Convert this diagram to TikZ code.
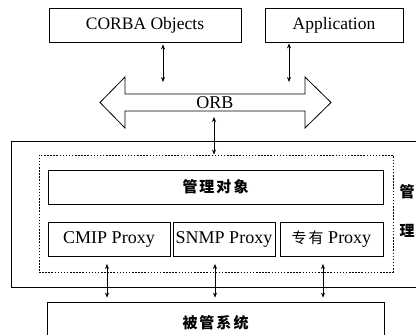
\documentclass[tikz,border=0pt]{standalone}
\usepackage{fontspec}
\setmainfont{Liberation Serif}
\newfontfamily\cjk{Noto Sans CJK SC}
\usetikzlibrary{arrows.meta,calc}
\tikzset{
  box/.style={draw, line width=0.8pt, inner sep=0pt, anchor=center},
  lat/.style={font=\fontsize{17.5}{20}\selectfont},
  dbl/.style={{Stealth[length=5pt,width=4pt]}-{Stealth[length=5pt,width=4pt]}, line width=0.7pt},
  dotbox/.style={draw, line width=0.9pt, dash pattern=on 1.5pt off 1.6pt, inner sep=0pt, anchor=center}
}
\begin{document}
\begin{tikzpicture}[x=1pt,y=-1pt]
\useasboundingbox (0,0) rectangle (416,335);
\clip (0,0) rectangle (416,335);
% top boxes
\node[box, lat, minimum width=192pt, minimum height=34pt] (corba) at (145,25) {CORBA Objects};
\node[box, lat, minimum width=138pt, minimum height=34pt] (app) at (334,25) {Application};
% ORB fat double arrow
\draw[line width=0.8pt] (100,102.5) -- (125,77) -- (125,94) -- (305,94) -- (305,77) -- (331,102.5)
  -- (305,128) -- (305,111) -- (125,111) -- (125,128) -- cycle;
\node[inner sep=0pt, font=\fontsize{18}{20}\selectfont] (orb) at (215,103) {ORB};
\coordinate (orbt1) at (163,82);
\coordinate (orbt2) at (289,82);
\coordinate (orbb) at (214,117);
% outer box (right side off the page)
\draw[line width=0.9pt] (420,141) -- (11,141) -- (11,287) -- (420,287);
% dotted box
\node[dotbox, minimum width=354pt, minimum height=117pt] (mgr) at (216,213.5) {};
% inner boxes
\node[box, minimum width=335pt, minimum height=34pt, font=\cjk\bfseries\fontsize{15}{18}\selectfont] (mo) at (215.5,187) {管\kern2pt 理\kern2pt 对\kern2pt 象};
\node[box, lat, font=\fontsize{18}{20}\selectfont, minimum width=122pt, minimum height=34pt] (cmip) at (109,239) {CMIP Proxy};
\node[box, lat, font=\fontsize{18}{20}\selectfont, minimum width=102pt, minimum height=34pt] (snmp) at (224,239) {SNMP Proxy};
\node[box, minimum width=103pt, minimum height=34pt] (prop) at (331.5,239) {{\cjk\fontsize{15}{18}\selectfont 专\kern2pt 有}\fontsize{18}{20}\selectfont\ Proxy};
% side labels
\node[font=\cjk\bfseries\fontsize{15}{18}\selectfont, inner sep=0pt] (lg) at (407,192) {管};
\node[font=\cjk\bfseries\fontsize{15}{18}\selectfont, inner sep=0pt] (ll) at (407,231) {理};
% managed system
\node[box, minimum width=337pt, minimum height=50pt] (sys) at (215.5,327) {};
\node[font=\cjk\bfseries\fontsize{15}{18}\selectfont, inner sep=0pt] (syst) at (215.5,323) {被\kern2pt 管\kern2pt 系\kern2pt 统};
% connectors
\draw[dbl] ($(corba.south)+(18,2)$) -- (orbt1);
\draw[dbl] ($(app.south)+(-45,1)$) -- (orbt2);
\draw[dbl] (orbb) -- (orbb |- mgr.north);
\coordinate (b1) at (107,264);
\coordinate (b2) at (215,264);
\coordinate (b3) at (323,264);
\draw[dbl] (b1) -- ($(b1 |- sys.north)+(0,-4)$);
\draw[dbl] (b2) -- ($(b2 |- sys.north)+(0,-4)$);
\draw[dbl] (b3) -- ($(b3 |- sys.north)+(0,-4)$);
\end{tikzpicture}
\end{document}
